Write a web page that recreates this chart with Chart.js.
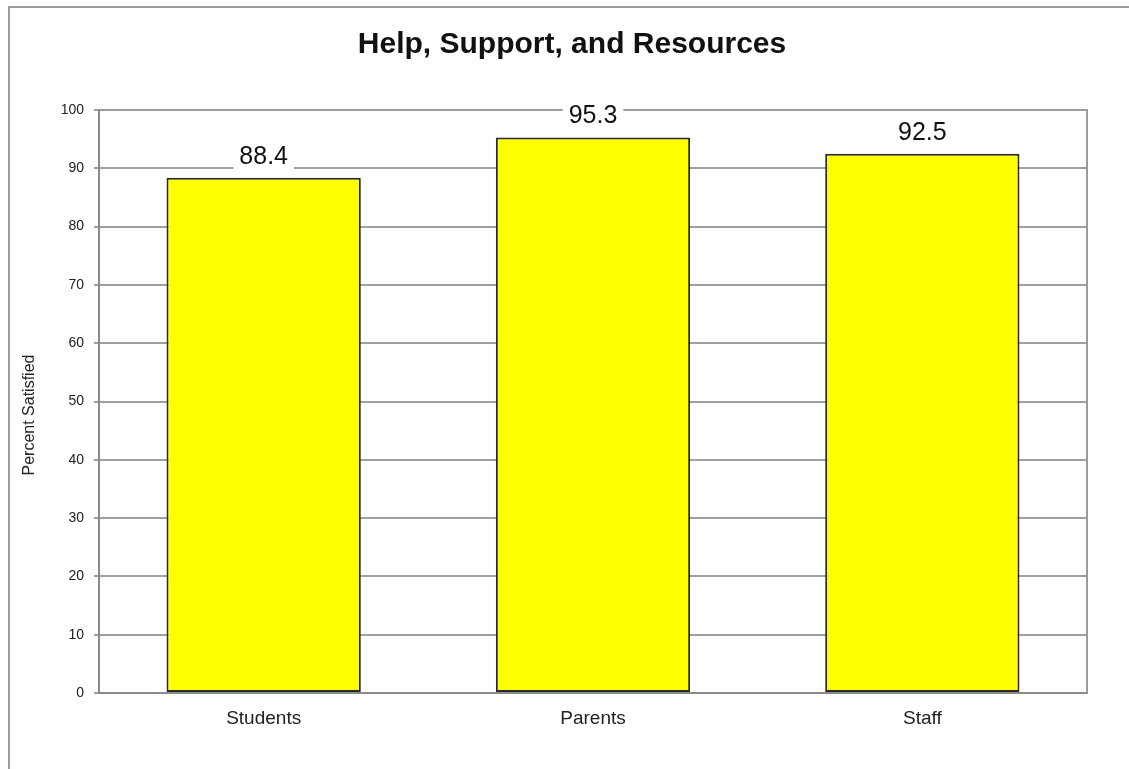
<!DOCTYPE html>
<html>
<head>
<meta charset="utf-8">
<script src="https://cdn.jsdelivr.net/npm/chart.js@4"></script>
<style>
html, body { margin: 0; padding: 0; background: #fff; overflow: hidden; }
#wrap { position: relative; width: 1129px; height: 769px; }
#frame { position: absolute; left: 8px; top: 6px; width: 1300px; height: 900px;
         border-left: 2px solid #9a9a9a; border-top: 2px solid #9a9a9a; }
canvas { position: absolute; left: 0; top: 0; }
</style>
</head>
<body>
<div id="wrap">
  <div id="frame"></div>
  <canvas id="myChart" width="1129" height="769"></canvas>
</div>
<script>
const chartTitle = 'Help, Support, and Resources';
const yTitle = 'Percent Satisfied';
const groups = ['Students', 'Parents', 'Staff'];
const percentSatisfied = [88.4, 95.3, 92.5];
const yMin = 0, yMax = 100, yStep = 10;

const FONT = '"Liberation Sans", Arial, sans-serif';

// title, y title and plot border
const decorations = {
    id: 'decorations',
    beforeDatasetsDraw(chart) {
        const ctx = chart.ctx;
        const a = chart.chartArea;
        ctx.save();
        ctx.strokeStyle = '#9a9a9a';
        ctx.lineWidth = 2;
        ctx.beginPath();
        ctx.moveTo(a.left, a.top);
        ctx.lineTo(a.right, a.top);
        ctx.lineTo(a.right, a.bottom);
        ctx.stroke();
        ctx.restore();
    },
    afterDraw(chart) {
        const ctx = chart.ctx;
        ctx.save();
        ctx.fillStyle = '#111';
        ctx.font = 'bold 30px ' + FONT;
        ctx.textAlign = 'center';
        ctx.textBaseline = 'alphabetic';
        ctx.fillText(chartTitle, 572, 53);

        ctx.font = '16px ' + FONT;
        ctx.fillStyle = '#222';
        ctx.translate(30, 415);
        ctx.rotate(-Math.PI / 2);
        ctx.textBaseline = 'middle';
        ctx.fillText(yTitle, 0, 0);
        ctx.restore();
    }
};

// value labels on a white box above each bar
const barLabels = {
    id: 'barLabels',
    afterDatasetsDraw(chart) {
        const ctx = chart.ctx;
        const meta = chart.getDatasetMeta(0);
        ctx.save();
        ctx.font = '25px ' + FONT;
        ctx.textAlign = 'center';
        ctx.textBaseline = 'alphabetic';
        meta.data.forEach((bar, i) => {
            const txt = percentSatisfied[i].toFixed(1);
            const w = ctx.measureText(txt).width;
            const base = bar.y - 14;
            ctx.fillStyle = '#fff';
            ctx.fillRect(bar.x - w / 2 - 6, base - 25, w + 12, 31);
            ctx.fillStyle = '#111';
            ctx.fillText(txt, bar.x, base);
        });
        ctx.restore();
    }
};

const ctx = document.getElementById('myChart');

new Chart(ctx, {
    type: 'bar',
    data: {
        labels: groups,
        datasets: [{
            label: yTitle,
            data: percentSatisfied,
            backgroundColor: '#ffff00',
            borderColor: '#2a2a2a',
            borderWidth: 2,
            borderSkipped: false,
            barPercentage: 0.59,
            categoryPercentage: 1
        }]
    },
    options: {
        responsive: false,
        animation: false,
        devicePixelRatio: 1,
        layout: { padding: { top: 110, right: 42, bottom: 0, left: 0 } },
        plugins: {
            legend: { display: false },
            title: { display: false },
            tooltip: { enabled: false }
        },
        scales: {
            x: {
                grid: { display: false, drawTicks: false },
                border: { display: true, color: '#8a8a8a', width: 2 },
                ticks: { color: '#222', font: { family: FONT, size: 19 }, padding: 14 },
                afterFit(scale) { scale.height = 76; }
            },
            y: {
                min: yMin,
                max: yMax,
                grid: { color: '#a0a0a0', lineWidth: 2, tickLength: 5 },
                border: { display: true, color: '#8a8a8a', width: 2 },
                ticks: { stepSize: yStep, color: '#222', font: { family: FONT, size: 14 }, padding: 10 },
                afterFit(scale) { scale.width = 99; }
            }
        }
    },
    plugins: [decorations, barLabels]
});
</script>
</body>
</html>
